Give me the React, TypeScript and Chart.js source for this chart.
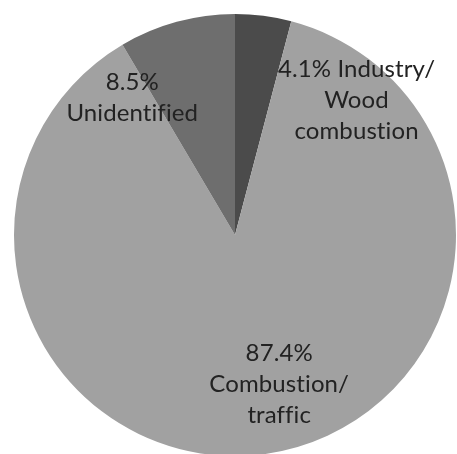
import React, { useEffect, useRef } from "react";
import { Chart, registerables } from "chart.js";

Chart.register(...registerables);

// Source shares, drawn clockwise from 12 o'clock
const categories = ["Industry/ Wood combustion", "Combustion/ traffic", "Unidentified"];
const shares = [4.1, 87.4, 8.5];
const sliceColors = ["#4b4b4b", "#a1a1a1", "#6e6e6e"];

// Text lines of each slice label (the share is prefixed to the first line)
const labelLines: string[][] = [
  ["Industry/", "Wood", "combustion"],
  ["", "Combustion/", "traffic"],
  ["", "Unidentified"],
];

// Label block centres, as offsets from the pie centre in units of the radius
const labelAnchors = [
  { dx: 0.55, dy: -0.61 },
  { dx: 0.2, dy: 0.675 },
  { dx: -0.465, dy: -0.62 },
];

const FONT = "Lato, 'Open Sans', sans-serif";
const LINE_H = 31;

const sliceLabels = {
  id: "sliceLabels",
  afterDatasetsDraw(chart: Chart) {
    const meta = chart.getDatasetMeta(0);
    const arc: any = meta.data[0];
    if (!arc) return;
    const { x, y, outerRadius } = arc.getProps(["x", "y", "outerRadius"], true);
    const ctx: any = chart.ctx;
    ctx.save();
    ctx.fillStyle = "#222222";
    ctx.font = `24px ${FONT}`;
    // a hair of tracking keeps "ti"/"fi" as separate glyphs
    ctx.letterSpacing = "0.1px";
    ctx.textAlign = "center";
    ctx.textBaseline = "middle";
    shares.forEach((v, i) => {
      const lines = labelLines[i].map((l, k) => {
        if (k !== 0) return l;
        return l ? `${v.toFixed(1)}% ${l}` : `${v.toFixed(1)}%`;
      });
      const cx = x + labelAnchors[i].dx * outerRadius;
      const cy = y + labelAnchors[i].dy * outerRadius;
      const top = cy - ((lines.length - 1) * LINE_H) / 2;
      lines.forEach((line, k) => ctx.fillText(line, cx, top + k * LINE_H));
    });
    ctx.restore();
  },
};

export default function App() {
  const ref = useRef<HTMLCanvasElement | null>(null);

  useEffect(() => {
    document.body.style.margin = "0";
    const canvas = ref.current;
    if (!canvas) return;
    const chart = new Chart(canvas, {
      type: "pie",
      data: {
        labels: categories,
        datasets: [
          {
            data: shares,
            backgroundColor: sliceColors,
            borderWidth: 0,
          },
        ],
      },
      options: {
        responsive: false,
        animation: false,
        layout: { padding: { top: 14, left: 14, right: 1, bottom: 2 } },
        plugins: {
          legend: { display: false },
          tooltip: { enabled: false },
        },
      },
      plugins: [sliceLabels],
    });
    return () => chart.destroy();
  }, []);

  return (
    <div style={{ width: 457, height: 454, overflow: "hidden", background: "#fff" }}>
      <canvas ref={ref} width={457} height={458} style={{ display: "block" }} />
    </div>
  );
}
